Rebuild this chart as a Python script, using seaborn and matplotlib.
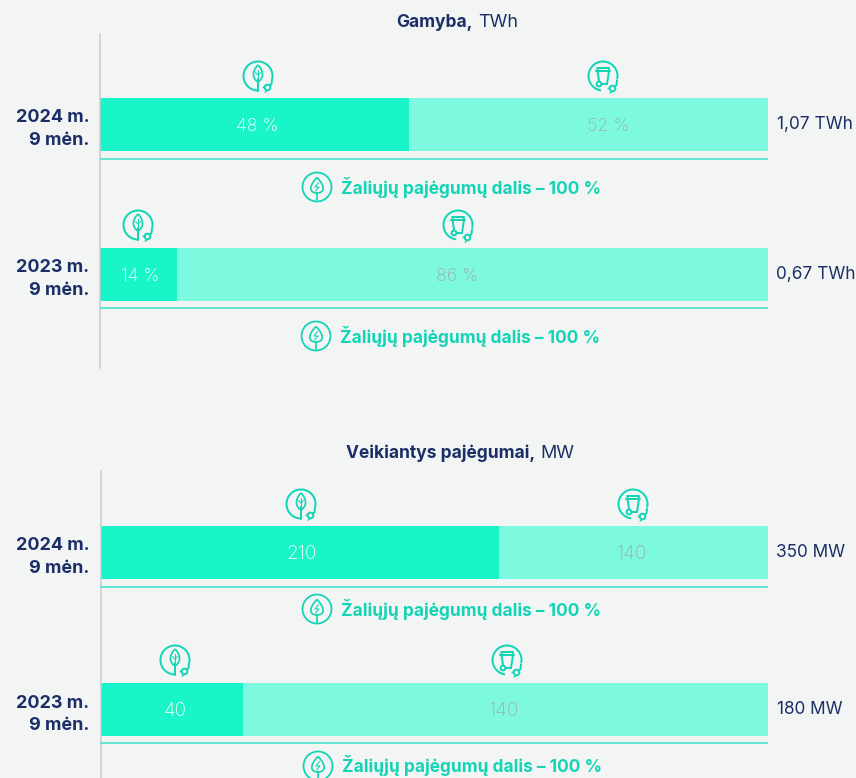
import numpy as np
import matplotlib
matplotlib.use("Agg")
import matplotlib.pyplot as plt
from matplotlib.patches import Circle, Polygon, PathPatch
from matplotlib.path import Path
import seaborn as sns

# ---- data ----
periods = ["2024 m.\n9 mėn.", "2023 m.\n9 mėn."]
gen_title = ("Gamyba,", "TWh")
cap_title = ("Veikiantys pajėgumai,", "MW")
gen_green_width = [46.3, 11.5]     # drawn share of the bar
gen_full_width = [100, 100]
gen_green_label = ["48 %", "14 %"]
gen_waste_label = ["52 %", "86 %"]
gen_total_label = ["1,07 TWh", "0,67 TWh"]
cap_green_width = [59.7, 21.3]
cap_full_width = [100, 100]
cap_green_label = ["210", "40"]
cap_waste_label = ["140", "140"]
cap_total_label = ["350 MW", "180 MW"]
note_text = "Žaliųjų pajėgumų dalis – 100 %"

# ---- style ----
W, H = 856, 778
BG = "#f3f5f5"
DARK = "#19f5c8"
LIGHT = "#7df9e0"
RULE = "#62e5d2"
ICON = "#14d4b6"
NAVY = "#1b2f66"
GREY = "#9fadab"
SPINE = "#c8cbcb"
FONT = "Inter"
PT = 72 / 100  # points per pixel at dpi 100

sns.set_theme(style="white", rc={"figure.facecolor": BG, "axes.facecolor": BG})
plt.rcParams["font.family"] = [FONT, "DejaVu Sans"]

fig = plt.figure(figsize=(W / 100, H / 100), dpi=100, facecolor=BG)


def panel(left, right, top, bottom, c0, c1, green, full):
    ax = fig.add_axes([left / W, 1 - bottom / H, (right - left) / W, (bottom - top) / H])
    ax.patch.set_alpha(0)
    step = c1 - c0
    w = 53 / step
    sns.barplot(x=full, y=periods, color=LIGHT, saturation=1, width=w, ax=ax,
                orient="h", linewidth=0)
    sns.barplot(x=green, y=periods, color=DARK, saturation=1, width=w, ax=ax,
                orient="h", linewidth=0)
    ax.set_xlim(0, 100)
    ax.set_ylim((bottom - c0) / step, (top - c0) / step)
    for s in ("top", "right", "bottom"):
        ax.spines[s].set_visible(False)
    ax.spines["left"].set_visible(True)
    ax.spines["left"].set_color(SPINE)
    ax.spines["left"].set_linewidth(1.5 * PT)
    ax.set_xticks([])
    ax.set_xlabel("")
    ax.set_ylabel("")
    ax.tick_params(axis="y", length=0, pad=(left - 89.5) * PT)
    for t in ax.get_yticklabels():
        t.set_fontsize(18 * PT)
        t.set_fontweight("bold")
        t.set_color(NAVY)
        t.set_ha("right")
        t.set_multialignment("right")
        t.set_linespacing(1.42)
    return ax


panel(100, 768, 34, 368, 124.5, 274.5, gen_green_width, gen_full_width)
panel(100.5, 768, 471, 778, 552.5, 709.5, cap_green_width, cap_full_width)

ov = fig.add_axes([0, 0, 1, 1], zorder=5)
ov.set_xlim(0, W)
ov.set_ylim(H, 0)
ov.axis("off")
ov.patch.set_alpha(0)

LW = 2.0 * PT


def line(xs, ys, lw=LW):
    ov.plot(xs, ys, color=ICON, lw=lw, solid_capstyle="round", solid_joinstyle="round")


def arc(cx, cy, r, a0, a1):
    t = np.radians(np.linspace(a0, a1, 90))
    line(cx + r * np.cos(t), cy + r * np.sin(t))


def plug(cx, cy):
    # cord leaves the open end of the ring, plug prongs point down-left
    px, py = cx + 9.5, cy + 11.5
    line([cx + 14, cx + 13.5, px + 2], [cy + 3.5, cy + 8, py - 1.2])
    ov.add_patch(Circle((px, py), 2.8, fc=BG, ec=ICON, lw=LW, zorder=4))
    line([px - 1.5, px - 4.5], [py - 2.2, py + 0.2], lw=1.3 * PT)
    line([px - 0.2, px - 2.4], [py + 2.6, py + 4.8], lw=1.3 * PT)


def leaf_icon(cx, cy):
    arc(cx, cy, 14.5, 90, 370)
    line([cx, cx], [cy + 14.5, cy + 3])
    verts = [(cx, cy - 11), (cx + 7, cy - 4), (cx + 5, cy + 3), (cx, cy + 6),
             (cx - 5, cy + 3), (cx - 7, cy - 4), (cx, cy - 11)]
    codes = [Path.MOVETO, Path.CURVE4, Path.CURVE4, Path.CURVE4,
             Path.CURVE4, Path.CURVE4, Path.CURVE4]
    ov.add_patch(PathPatch(Path(verts, codes), fc="none", ec=ICON, lw=LW * 0.85))
    line([cx, cx], [cy - 6, cy + 6], lw=1.1 * PT)
    line([cx - 2.5, cx], [cy - 3.5, cy - 1], lw=1 * PT)
    line([cx + 2.5, cx], [cy - 3.5, cy - 1], lw=1 * PT)
    plug(cx, cy)


def bin_icon(cx, cy):
    arc(cx, cy, 14.5, 100, 370)
    line([cx - 7, cx + 7.5], [cy - 5, cy - 5])
    line([cx - 5.5, cx - 5, cx + 5.5, cx + 6, cx - 5.5], [cy - 8, cy - 5, cy - 5, cy - 8, cy - 8])
    ov.add_patch(Polygon([(cx - 5.5, cy - 5), (cx + 6, cy - 5), (cx + 4, cy + 8), (cx - 3.5, cy + 8)],
                         closed=True, fc="none", ec=ICON, lw=LW))
    ov.add_patch(Circle((cx - 4, cy + 8), 2.4, fc=BG, ec=ICON, lw=LW, zorder=4))
    plug(cx, cy + 1)


def drop_icon(cx, cy):
    ov.add_patch(Circle((cx, cy), 14.5, fc="none", ec=ICON, lw=LW * 0.9))
    verts = [(cx, cy - 9.5), (cx + 8.5, cy - 1), (cx + 8, cy + 6), (cx, cy + 6),
             (cx - 8, cy + 6), (cx - 8.5, cy - 1), (cx, cy - 9.5)]
    codes = [Path.MOVETO, Path.CURVE4, Path.CURVE4, Path.CURVE4,
             Path.CURVE4, Path.CURVE4, Path.CURVE4]
    ov.add_patch(PathPatch(Path(verts, codes), fc="none", ec=ICON, lw=LW * 0.85))
    line([cx, cx], [cy + 6, cy + 13], lw=LW * 0.85)
    line([cx + 1.5, cx - 2, cx + 2, cx - 1.5], [cy - 4.5, cy, cy, cy + 4], lw=1.1 * PT)


def title(split, y, parts):
    ov.text(split, y, parts[0], ha="right", va="center", color=NAVY,
            fontsize=17.4 * PT, fontweight="bold")
    ov.text(split + 5, y, parts[1], ha="left", va="center", color=NAVY, fontsize=18 * PT)


title(473, 22, gen_title)
title(535, 453, cap_title)

rows = [
    (124.5, 158.5, gen_green_label[0], 257, 258, gen_waste_label[0], 608, 603, 76, gen_total_label[0], 777, 317, 187),
    (274.5, 307.5, gen_green_label[1], 140, 138, gen_waste_label[1], 457, 458, 225, gen_total_label[1], 776, 316, 336),
    (552.5, 586.5, cap_green_label[0], 302, 301, cap_waste_label[0], 632, 633, 504, cap_total_label[0], 776, 317, 609),
    (709.5, 742.5, cap_green_label[1], 175, 175, cap_waste_label[1], 504, 507, 660, cap_total_label[1], 777, 318, 766),
]
for yc, rule_y, gl, gx, gi, wl, wx, wi, iy, tot, tx, dx, dy in rows:
    size = 19 if gl[-1] != "%" else 17.8
    ov.text(gx, yc + 1.5, gl, ha="center", va="center", color="white", fontsize=size * PT, fontweight="light")
    ov.text(wx, yc + 1.5, wl, ha="center", va="center", color=GREY, fontsize=size * PT, fontweight="light")
    ov.text(tx, yc, tot, ha="left", va="center", color=NAVY, fontsize=17.2 * PT)
    ov.plot([100, 768], [rule_y, rule_y], color=RULE, lw=2 * PT, solid_capstyle="butt")
    leaf_icon(gi, iy)
    bin_icon(wi, iy)
    drop_icon(dx, dy)
    ov.text(dx + 24, dy, note_text, ha="left", va="center", color=ICON,
            fontsize=17.3 * PT, fontweight="bold")

fig.savefig("out.png", dpi=100, facecolor=BG)
